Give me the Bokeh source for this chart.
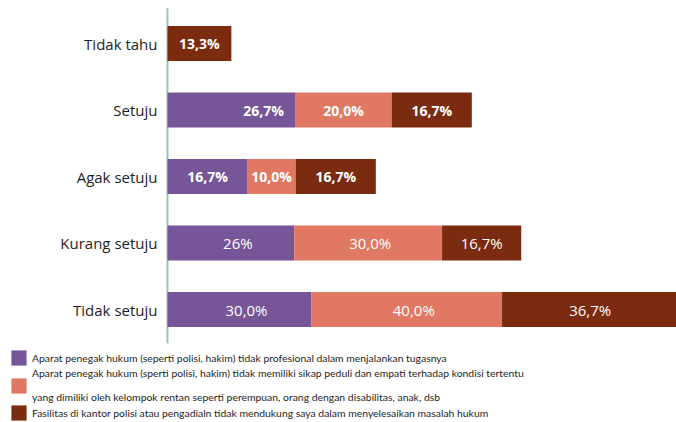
from bokeh.plotting import figure
from bokeh.models import ColumnDataSource, Legend, LegendItem
from bokeh.core.properties import value
from bokeh.embed import file_html
from bokeh.resources import INLINE

categories = ["Tidak setuju", "Kurang setuju", "Agak setuju", "Setuju", "Tidak tahu"]
s1_values = [30.0, 26.4, 16.7, 26.7, 0.0]
s2_values = [39.7, 30.8, 10.0, 20.0, 0.0]
s3_values = [36.7, 16.5, 16.7, 16.7, 13.3]
s1_labels = ["30,0%", "26%", "16,7%", "26,7%", ""]
s2_labels = ["40,0%", "30,0%", "10,0%", "20,0%", ""]
s3_labels = ["36,7%", "16,7%", "16,7%", "16,7%", "13,3%"]
series_names = [
    "Aparat penegak hukum (seperti polisi, hakim) tidak profesional dalam menjalankan tugasnya",
    "Aparat penegak hukum (sperti polisi, hakim) tidak memiliki sikap peduli dan empati terhadap kondisi tertentu\n\nyang dimiliki oleh kelompok rentan seperti perempuan, orang dengan disabilitas, anak, dsb",
    "Fasilitas di kantor polisi atau pengadialn tidak mendukung saya dalam menyelesaikan masalah hukum",
]

colors = ["#765598", "#e07863", "#7a2b10"]
FONT = "Open Sans"
LEG_FONT = "Lato"

# layout geometry (pixels)
W, H = 676, 422
AXIS_PX = 167          # x pixel of the value-zero line
PX_PER_UNIT = 4.8      # horizontal pixels per percent
ROW0_PX = 309          # y pixel of the bottom category centre
ROW_STEP = 66.5        # vertical pixels between category centres

x_range = (-AXIS_PX / PX_PER_UNIT, (W - AXIS_PX) / PX_PER_UNIT)
y_range = (-(H - ROW0_PX) / ROW_STEP, ROW0_PX / ROW_STEP)

p = figure(width=W, height=H, x_range=x_range, y_range=y_range,
           output_backend="svg", toolbar_location=None,
           min_border_left=0, min_border_right=0, min_border_top=0, min_border_bottom=0)
p.axis.visible = False
p.grid.visible = False
p.outline_line_color = None

ypos = list(range(len(categories)))

# category axis line
p.segment(x0=[0], x1=[0], y0=[-0.51], y1=[len(categories) - 1 + 0.53],
          line_color="#a0c3ae", line_width=2)

bold_rows = {"Setuju", "Agak setuju", "Tidak tahu"}
# small horizontal nudges of value labels, as in the original (pixels)
label_nudge = [
    {"Tidak setuju": 7, "Kurang setuju": 7, "Setuju": 32},
    {"Tidak setuju": 7, "Kurang setuju": 2},
    {},
]

renderers = []
left = [0.0] * len(categories)
for k, (vals, labs, col) in enumerate(zip([s1_values, s2_values, s3_values],
                                          [s1_labels, s2_labels, s3_labels], colors)):
    right = [l + v for l, v in zip(left, vals)]
    src = ColumnDataSource(dict(
        y=ypos, left=left, right=right,
        mid=[(l + r) / 2 for l, r in zip(left, right)],
        label=labs,
        dx=[label_nudge[k].get(c, 0) for c in categories],
        style=["bold" if c in bold_rows else "normal" for c in categories],
        size=["14px" if c in bold_rows else "15px" for c in categories],
    ))
    r = p.hbar(y="y", left="left", right="right", height=0.526, source=src,
               fill_color=col, line_color=None)
    p.text(x="mid", y="y", text="label", source=src, x_offset="dx", text_color="white",
           text_font=value(FONT), text_font_size="size", text_font_style="style",
           text_align="center", text_baseline="middle")
    renderers.append(r)
    left = right

# category labels
p.text(x=[0] * len(categories), y=ypos, text=categories, x_offset=-10,
       text_align="right", text_baseline="middle", text_font=value(FONT),
       text_font_size="15px", text_color="#1e1e1e")

legend = Legend(items=[LegendItem(label=n, renderers=[r]) for n, r in zip(series_names, renderers)],
                location=(9, 0), orientation="vertical",
                glyph_width=19, glyph_height=19, label_height=15,
                label_text_font=LEG_FONT, label_text_font_size="10.4px",
                label_text_color="#1e1e1e",
                label_standoff=4, spacing=0, padding=0, margin=0,
                border_line_color=None, background_fill_alpha=0)
p.add_layout(legend, "center")

open("out.html", "w").write(file_html(p, INLINE))
